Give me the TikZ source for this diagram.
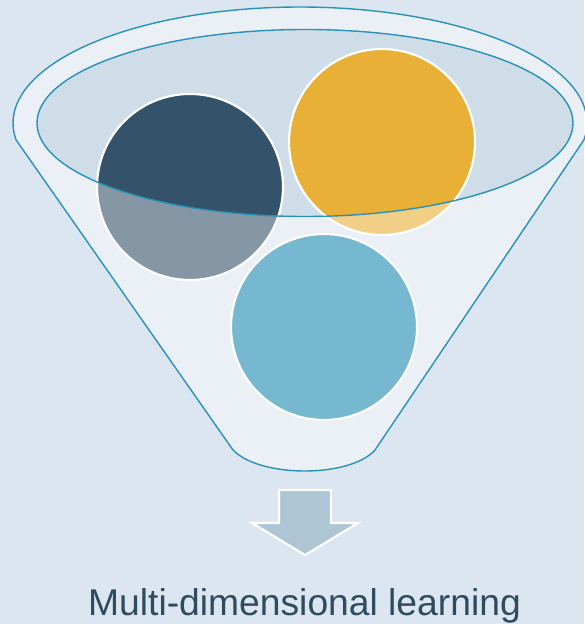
\documentclass[tikz,border=0pt]{standalone}
\usepackage{fontspec}
\setmainfont{Liberation Sans}
\usetikzlibrary{positioning}

\definecolor{bgblue}{HTML}{DCE6F0}
\definecolor{mouthblue}{HTML}{CFDDE8}
\definecolor{rimline}{HTML}{2A92B6}
\definecolor{slate}{HTML}{34536A}
\definecolor{amber}{HTML}{E8B036}
\definecolor{teal}{HTML}{1C8AAF}
\definecolor{arrowgray}{HTML}{AEC5D4}
\definecolor{labeltext}{HTML}{2F4B5E}

\tikzset{
    ball/.style={circle, draw=white, line width=1.2pt, inner sep=0pt, minimum size=3.72cm},
    rim/.style={draw=rimline, line width=0.8pt},
}

\begin{document}
\begin{tikzpicture}[x=0.02cm, y=-0.02cm]
    % canvas
    \fill[bgblue] (0,0) rectangle (584,624);
    \useasboundingbox (0,0) rectangle (584,624);

    % mouth of the funnel
    \fill[mouthblue] (305,123) ellipse [x radius=268, y radius=93.5];

    % the three balls
    \node[ball, fill=slate] (dark) at (190,187) {};
    \node[ball, fill=amber] (gold) at (382,142) {};
    \node[ball, fill=teal] (blue) at (324,327) {};

    % funnel body over the balls
    \fill[white, fill opacity=0.4, even odd rule]
        plot[domain=171.6:368.4, samples=90] ({300+287*cos(\x)},{123+116*sin(\x)})
        -- (375,450) .. controls (350,478) and (260,478) .. (233,450) -- cycle
        (305,123) ellipse [x radius=268, y radius=93.5];
    \draw[rim]
        plot[domain=171.6:368.4, samples=90] ({300+287*cos(\x)},{123+116*sin(\x)})
        -- (375,450) .. controls (350,478) and (260,478) .. (233,450) -- cycle;
    \draw[rim] (305,123) ellipse [x radius=268, y radius=93.5];

    % down arrow
    \coordinate (tip) at (305,555);
    \filldraw[fill=arrowgray, draw=white, line width=1.2pt]
        (tip) -- ++(-53,-32) -- ++(27,0) -- ++(0,-33) -- ++(52,0)
        -- ++(0,33) -- ++(27,0) -- cycle;

    % result
    \node[text=labeltext, font=\fontsize{21.2}{25}\selectfont, anchor=base]
        (result) at (304.5,615) {Multi-dimensional learning};
\end{tikzpicture}
\end{document}
